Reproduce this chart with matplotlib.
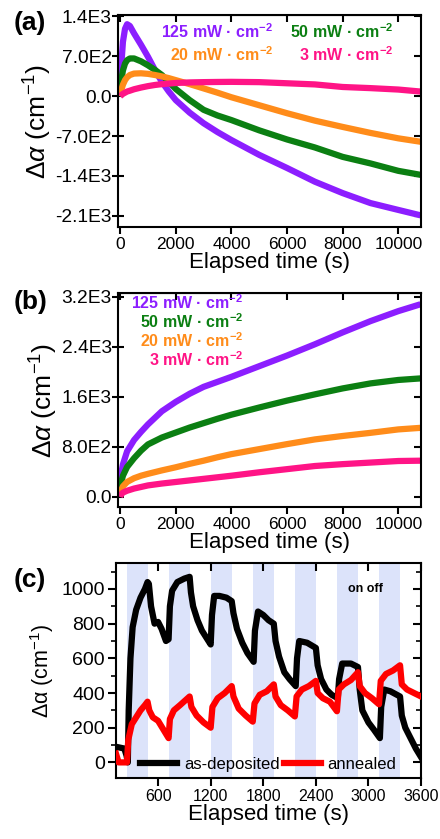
import numpy as np
import matplotlib
matplotlib.use("Agg")
import matplotlib.pyplot as plt
from matplotlib.ticker import MultipleLocator

plt.rcParams['font.family'] = ['Liberation Sans', 'DejaVu Sans']
plt.rcParams['mathtext.fontset'] = 'custom'
plt.rcParams['mathtext.rm'] = 'Liberation Sans'
plt.rcParams['mathtext.it'] = 'Liberation Sans:italic'
plt.rcParams['mathtext.bf'] = 'Liberation Sans:bold'

# ---------------- 数据 (a) 光照下 Δα 随时间 ----------------
t_a = [0, 50, 100, 175, 250, 350, 500, 750, 1000, 1250, 1500, 1750, 2000, 2500, 3000, 3500,
       4000, 5000, 6000, 7000, 8000, 9000, 10000, 10800]
a_125 = [0, 600, 950, 1180, 1260, 1230, 1100, 900, 690, 460, 250, 80, -70, -290, -475, -630,
         -770, -1030, -1260, -1500, -1700, -1875, -1995, -2090]
a_50 = [0, 300, 450, 570, 630, 660, 660, 610, 540, 460, 370, 250, 125, -70, -240, -340,
        -420, -600, -760, -900, -1065, -1180, -1310, -1380]
a_20 = [0, 120, 200, 280, 330, 370, 395, 400, 390, 370, 345, 315, 280, 210, 135, 60,
        -20, -160, -300, -430, -540, -645, -740, -800]
a_3 = [0, 20, 40, 60, 80, 95, 120, 150, 175, 195, 210, 220, 230, 240, 245, 248,
       250, 245, 225, 205, 160, 140, 115, 80]

# ---------------- 数据 (b) ----------------
t_b = [0, 30, 100, 250, 500, 750, 1000, 1500, 2000, 2500, 3000, 3500, 4000, 5000, 6000, 7000,
       8000, 9000, 10000, 10800]
b_125 = [150, 350, 520, 730, 910, 1040, 1160, 1370, 1520, 1650, 1760, 1840, 1920, 2090, 2260, 2440,
         2630, 2810, 2970, 3080]
b_50 = [80, 220, 340, 480, 620, 740, 840, 950, 1030, 1110, 1180, 1250, 1315, 1430, 1540, 1640,
        1735, 1815, 1870, 1895]
b_20 = [40, 100, 170, 240, 300, 340, 370, 425, 475, 530, 580, 635, 685, 765, 845, 920,
        975, 1025, 1080, 1105]
b_3 = [0, 40, 70, 100, 135, 160, 185, 215, 240, 265, 290, 315, 340, 395, 445, 495,
       525, 550, 575, 580]

labels_power = ['125 mW · cm$^{\\mathbf{-2}}$', '50 mW · cm$^{\\mathbf{-2}}$',
                '20 mW · cm$^{\\mathbf{-2}}$', '3 mW · cm$^{\\mathbf{-2}}$']
colors_power = ['#8C1EFF', '#0B7F12', '#FF8C1A', '#FF1486']

a_yticks = [1400, 700, 0, -700, -1400, -2100]
a_yticklabels = ['1.4E3', '7.0E2', '0.0', '-7.0E2', '-1.4E3', '-2.1E3']
b_yticks = [0, 800, 1600, 2400, 3200]
b_yticklabels = ['0.0', '8.0E2', '1.6E3', '2.4E3', '3.2E3']
ab_xticks = [0, 2000, 4000, 6000, 8000, 10000]

# ---------------- 数据 (c) 开关光循环 ----------------
band_on = [240, 720, 1200, 1680, 2160, 2640, 3120]
band_off = [480, 960, 1440, 1920, 2400, 2880, 3360]

t_dep = [120, 215, 240, 255, 265, 285, 310, 350, 400, 450, 480, 495, 520, 560, 600, 640, 690, 720,
         735, 760, 820, 900, 960, 975, 1000, 1050, 1100, 1150, 1200, 1215, 1240, 1300, 1380, 1440,
         1460, 1500, 1560, 1620, 1690, 1705, 1740, 1800, 1860, 1920, 1940, 1980, 2040, 2100, 2170,
         2185, 2210, 2300, 2400, 2420, 2460, 2520, 2580, 2650, 2665, 2700, 2800, 2880, 2900, 2930,
         3000, 3060, 3130, 3145, 3180, 3250, 3360, 3380, 3420, 3480, 3540, 3600]
v_dep = [90, 80, 40, 0, 300, 600, 780, 880, 950, 1000, 1040, 1030, 900, 800, 810, 770, 700, 710,
         900, 990, 1040, 1060, 1070, 980, 900, 820, 760, 720, 680, 850, 960, 960, 950, 930,
         860, 770, 690, 630, 580, 760, 870, 850, 820, 800, 700, 610, 520, 480, 440,
         600, 700, 690, 660, 560, 480, 420, 390, 370, 480, 570, 570, 550, 420, 300,
         230, 190, 140, 320, 420, 410, 380, 270, 200, 140, 80, 30]

t_ann = [120, 150, 245, 260, 300, 350, 400, 450, 480, 500, 540, 600, 660, 720, 735, 780, 850, 960,
         980, 1040, 1120, 1200, 1220, 1280, 1360, 1440, 1460, 1520, 1600, 1680, 1700, 1760, 1840,
         1920, 1940, 2000, 2080, 2160, 2180, 2240, 2320, 2400, 2420, 2480, 2560, 2640, 2660, 2720,
         2800, 2880, 2900, 2960, 3040, 3120, 3140, 3200, 3280, 3360, 3380, 3440, 3520, 3600]
v_ann = [50, 0, 0, 130, 220, 260, 300, 330, 350, 300, 260, 240, 190, 140, 250, 300, 330, 380,
         320, 270, 230, 200, 320, 370, 400, 440, 380, 310, 270, 235, 340, 390, 410,
         450, 380, 330, 300, 265, 380, 420, 440, 470, 400, 370, 350, 295, 420, 450,
         475, 520, 440, 400, 370, 335, 470, 510, 530, 560, 450, 420, 400, 380]

c_yticks = [0, 200, 400, 600, 800, 1000]
c_xticks = [600, 1200, 1800, 2400, 3000, 3600]

# ---------------- 画图 ----------------
fig = plt.figure(figsize=(4.4, 8.39), dpi=100)
ax_a = fig.add_axes([0.268, 0.7294, 0.689, 0.2526])
ax_b = fig.add_axes([0.268, 0.3957, 0.689, 0.2551])
ax_c = fig.add_axes([0.2636, 0.0727, 0.6934, 0.2563])

lw = 4.5


def style_ab(ax):
    for s in ax.spines.values():
        s.set_linewidth(1.5)
    ax.tick_params(axis='y', which='major', left=True, right=True, direction='inout',
                   length=9, width=1.5, labelsize=13.8, pad=0)
    ax.tick_params(axis='x', which='major', bottom=True, top=False, direction='out',
                   length=5, width=1.5, labelsize=12.5, pad=2)
    ax.set_xlim(-80, 10820)
    ax.set_xticks(ab_xticks)
    ax.set_xlabel('Elapsed time (s)', fontsize=16, labelpad=0)
    ax.set_ylabel('$\\mathit{\\Delta\\alpha}$ (cm$^{-1}$)', fontsize=19, labelpad=1)
    sec = ax.secondary_xaxis('top')
    sec.set_xticks(ab_xticks)
    sec.tick_params(direction='in', length=5, width=1.5, labeltop=False)
    # 右侧刻度朝内
    for t in ax.yaxis.get_major_ticks():
        t.tick2line.set_marker(0)
        t.tick2line.set_markersize(5)


# (a)
for y, c in zip([a_125, a_50, a_20, a_3], colors_power):
    ax_a.plot(t_a, y, color=c, lw=lw, solid_capstyle='butt', solid_joinstyle='round')
ax_a.set_ylim(-2295, 1420)
ax_a.set_yticks(a_yticks)
ax_a.set_yticklabels(a_yticklabels)
style_ab(ax_a)
ax_a.text(0.512, 0.92, labels_power[0], transform=ax_a.transAxes, ha='right', va='center',
          color=colors_power[0], fontsize=11.5, fontweight='bold')
ax_a.text(0.908, 0.92, labels_power[1], transform=ax_a.transAxes, ha='right', va='center',
          color=colors_power[1], fontsize=11.5, fontweight='bold')
ax_a.text(0.512, 0.815, labels_power[2], transform=ax_a.transAxes, ha='right', va='center',
          color=colors_power[2], fontsize=11.5, fontweight='bold')
ax_a.text(0.908, 0.815, labels_power[3], transform=ax_a.transAxes, ha='right', va='center',
          color=colors_power[3], fontsize=11.5, fontweight='bold')
fig.text(0.03, 0.973, '(a)', fontsize=19, fontweight='bold', va='center')

# (b)
for y, c in zip([b_125, b_50, b_20, b_3], colors_power):
    ax_b.plot(t_b, y, color=c, lw=lw, solid_capstyle='butt', solid_joinstyle='round')
ax_b.set_ylim(-160, 3260)
ax_b.set_yticks(b_yticks)
ax_b.set_yticklabels(b_yticklabels)
style_ab(ax_b)
for i, yy in enumerate([0.953, 0.864, 0.776, 0.687]):
    ax_b.text(0.413, yy, labels_power[i], transform=ax_b.transAxes, ha='right', va='center',
              color=colors_power[i], fontsize=11.5, fontweight='bold')
fig.text(0.03, 0.640, '(b)', fontsize=19, fontweight='bold', va='center')

# (c)
for s0, s1 in zip(band_on, band_off):
    ax_c.axvspan(s0, s1, color='#DCE3FA', lw=0, zorder=0)
ax_c.plot(t_dep, v_dep, color='black', lw=lw, label='as-deposited', zorder=2,
          solid_joinstyle='round')
ax_c.plot(t_ann, v_ann, color='#FF0000', lw=lw, label='annealed', zorder=3,
          solid_joinstyle='round')
ax_c.set_xlim(120, 3600)
ax_c.set_ylim(-90, 1150)
ax_c.set_xticks(c_xticks)
ax_c.set_yticks(c_yticks)
ax_c.yaxis.set_minor_locator(MultipleLocator(100))
for s in ax_c.spines.values():
    s.set_linewidth(1.5)
ax_c.tick_params(axis='y', which='major', left=True, right=True, direction='out',
                 length=6, width=1.5, labelsize=14, pad=2)
ax_c.tick_params(axis='y', which='minor', left=True, right=True, direction='out',
                 length=3.5, width=1.2)
for t in ax_c.yaxis.get_major_ticks() + ax_c.yaxis.get_minor_ticks():
    t.tick2line.set_marker(0)
ax_c.tick_params(axis='x', which='major', bottom=True, top=True, direction='out',
                 length=6, width=1.5, labelsize=11.5, pad=2)
for t in ax_c.xaxis.get_major_ticks():
    t.tick2line.set_marker(3)
ax_c.set_xlabel('Elapsed time (s)', fontsize=16, labelpad=0)
ax_c.set_ylabel('$\\mathrm{\\Delta\\alpha}$ (cm$^{-1}$)', fontsize=15.5, labelpad=4)
ax_c.text(2960, 1000, 'on off', fontsize=9, fontweight='bold', ha='center', va='center')
ax_c.legend(loc='lower center', bbox_to_anchor=(0.5, -0.04), ncol=2, frameon=False,
            fontsize=12, handlelength=2.2, handletextpad=0.4, columnspacing=0.3)
fig.text(0.03, 0.309, '(c)', fontsize=19, fontweight='bold', va='center')

fig.savefig('out.png', dpi=100)
